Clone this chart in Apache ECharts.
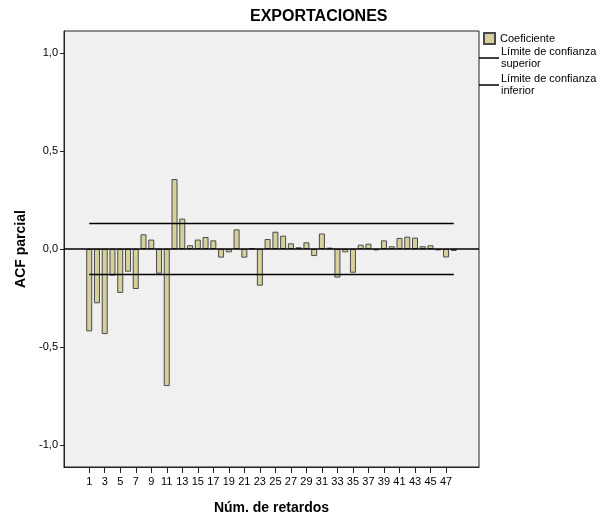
<!DOCTYPE html>
<html>
<head>
<meta charset="utf-8">
<script src="https://cdn.jsdelivr.net/npm/echarts@6/dist/echarts.min.js"></script>
<style>html,body{margin:0;padding:0;background:#fff}#c{width:606px;height:515px}</style>
</head>
<body>
<div id="c"></div>
<script>
const lags = [1,2,3,4,5,6,7,8,9,10,11,12,13,14,15,16,17,18,19,20,21,22,23,24,25,26,27,28,29,30,31,32,33,34,35,36,37,38,39,40,41,42,43,44,45,46,47,48];
const coef = [-0.42,-0.277,-0.434,-0.136,-0.224,-0.116,-0.204,0.075,0.048,-0.126,-0.699,0.357,0.155,0.019,0.048,0.061,0.044,-0.044,-0.017,0.10,-0.044,0.003,-0.187,0.051,0.088,0.068,0.029,0.009,0.034,-0.036,0.079,0.007,-0.146,-0.017,-0.121,0.022,0.027,-0.007,0.044,0.014,0.056,0.063,0.058,0.014,0.019,-0.007,-0.043,-0.01];
const confLags = [1, 48];
const upperLimit = [0.13, 0.13];
const lowerLimit = [-0.13, -0.13];
const xTickLabels = [1,3,5,7,9,11,13,15,17,19,21,23,25,27,29,31,33,35,37,39,41,43,45,47];
const yTickLabels = [-1.0,-0.5,0,0.5,1.0];

const FONT = 'Liberation Sans, Arial, sans-serif';
const chart = echarts.init(document.getElementById('c'));
chart.setOption({
  animation: false,
  backgroundColor: '#ffffff',
  title: {
    text: 'EXPORTACIONES', left: 245, top: 4,
    textStyle: {fontFamily: FONT, fontSize: 16, fontWeight: 'bold', color: '#000'}
  },
  legend: [{
    data: ['Coeficiente'], orient: 'vertical', left: 483, top: 32,
    itemWidth: 11, itemHeight: 11, itemGap: 2, icon: 'rect',
    textStyle: {fontFamily: FONT, fontSize: 11, color: '#000'},
    padding: 0
  }, {
    data: [{name: 'Límite de confianza\nsuperior', icon: 'rect'}, {name: 'Límite de confianza\ninferior', icon: 'rect'}],
    orient: 'vertical', left: 479, top: 46,
    itemWidth: 20, itemHeight: 1.5, itemGap: 3,
    textStyle: {fontFamily: FONT, fontSize: 11, color: '#000', lineHeight: 12, padding: [0,0,0,-3]},
    padding: 0
  }],
  grid: {
    left: 64, right: 127, top: 31, bottom: 48,
    outerBoundsMode: 'none', containLabel: false,
    show: true, backgroundColor: '#f0f0f0', borderColor: '#222', borderWidth: 1
  },
  xAxis: {
    type: 'value', min: -2.25, max: 51.25,
    name: 'Núm. de retardos', nameLocation: 'middle', nameGap: 34,
    nameTextStyle: {fontFamily: FONT, fontSize: 14, fontWeight: 'bold', color: '#000'},
    axisLine: {show: true, onZero: false, lineStyle: {color: '#222', width: 1}},
    axisTick: {show: true, length: 6, customValues: xTickLabels, lineStyle: {color: '#222'}},
    axisLabel: {customValues: xTickLabels, fontFamily: FONT, fontSize: 11, color: '#000', margin: 9},
    splitLine: {show: false}
  },
  yAxis: {
    type: 'value', min: -1.112, max: 1.112,
    name: 'ACF parcial', nameLocation: 'middle', nameGap: 35, nameRotate: 90,
    nameTextStyle: {fontFamily: FONT, fontSize: 14, fontWeight: 'bold', color: '#000'},
    axisLine: {show: true, onZero: false, lineStyle: {color: '#222', width: 1}},
    axisTick: {show: true, length: 4, customValues: yTickLabels, lineStyle: {color: '#222'}},
    axisLabel: {customValues: yTickLabels, fontFamily: FONT, fontSize: 11, color: '#000', margin: 6,
      formatter: v => v.toFixed(1).replace('.', ',')},
    splitLine: {show: false}
  },
  series: [{
    name: 'Coeficiente', type: 'bar', barWidth: 6, z: 2,
    data: lags.map((l, i) => [l, coef[i]]),
    itemStyle: {color: '#d6d19c', borderColor: '#4a4a4a', borderWidth: 1},
    markLine: {
      silent: true, symbol: 'none', label: {show: false},
      lineStyle: {color: '#000', width: 1.5, type: 'solid'},
      data: [{yAxis: 0}], z: 5
    }
  }, {
    name: 'Límite de confianza\nsuperior', type: 'line', symbol: 'none', z: 4,
    data: confLags.map((l, i) => [l, upperLimit[i]]),
    lineStyle: {color: '#000', width: 1.5}, itemStyle: {color: '#000'}
  }, {
    name: 'Límite de confianza\ninferior', type: 'line', symbol: 'none', z: 4,
    data: confLags.map((l, i) => [l, lowerLimit[i]]),
    lineStyle: {color: '#000', width: 1.5}, itemStyle: {color: '#000'}
  }]
});
</script>
</body>
</html>
